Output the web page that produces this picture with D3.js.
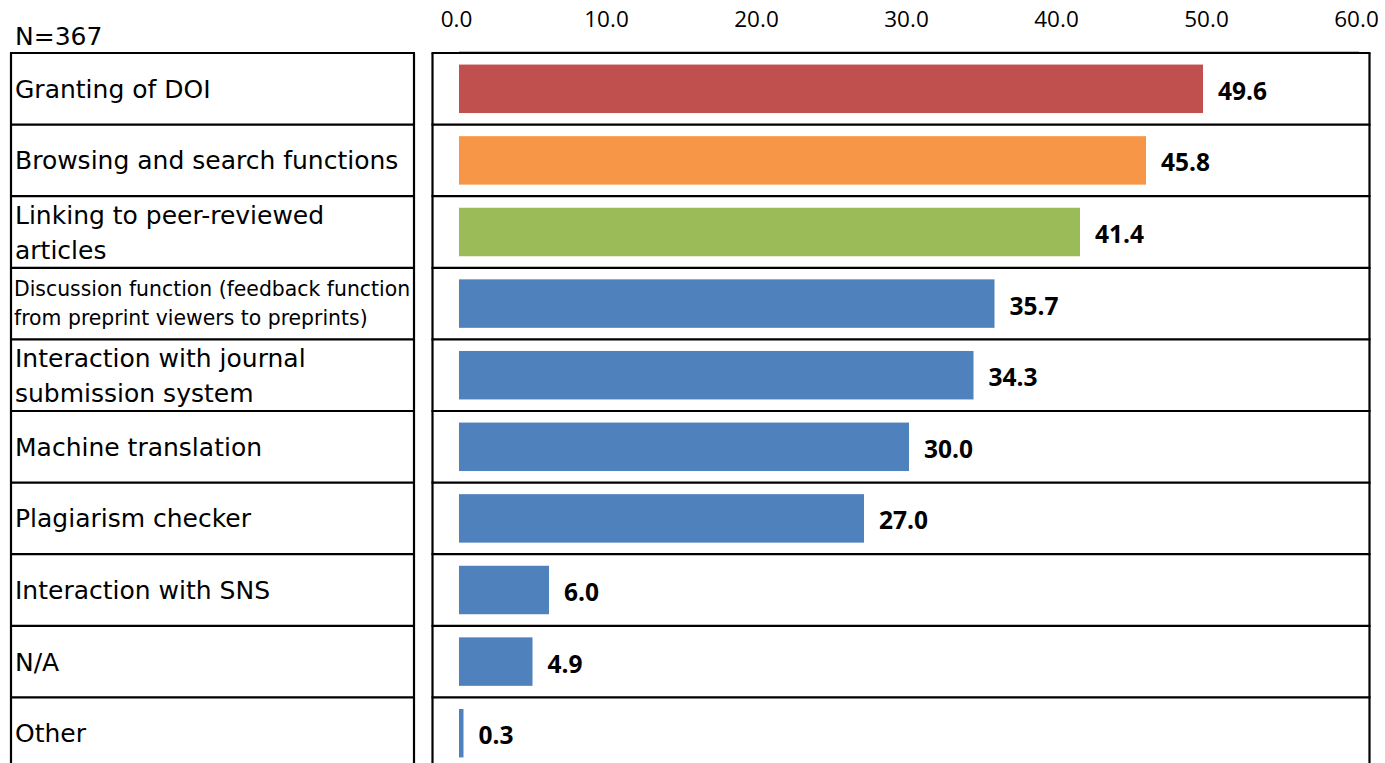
<!DOCTYPE html>
<html>
<head>
<meta charset="utf-8">
<script src="https://cdn.jsdelivr.net/npm/d3@7"></script>
<style>
  html, body { margin: 0; padding: 0; background: #fff; }
  svg { display: block; }
</style>
</head>
<body>
<svg id="chart" width="1385" height="763"></svg>
<script>
// ---- data ----
const categories = [
  "Granting of DOI",
  "Browsing and search functions",
  "Linking to peer-reviewed\narticles",
  "Discussion function (feedback function\nfrom preprint viewers to preprints)",
  "Interaction with journal\nsubmission system",
  "Machine translation",
  "Plagiarism checker",
  "Interaction with SNS",
  "N/A",
  "Other"
];
const values = [49.6, 45.8, 41.4, 35.7, 34.3, 30.0, 27.0, 6.0, 4.9, 0.3];
const tickValues = [0, 10, 20, 30, 40, 50, 60];
const sampleNote = "N=367";

// ---- styles ----
const barColors = ["#C0504D", "#F79646", "#9BBB59", "#4F81BD", "#4F81BD", "#4F81BD", "#4F81BD", "#4F81BD", "#4F81BD", "#4F81BD"];
const smallLabelIdx = new Set([3]);

const svg = d3.select("#chart");
const rowTop = 53, rowH = 71.6;

const x = d3.scaleLinear().domain([0, 60]).range([459, 1359]);
const row = d3.scaleBand().domain(categories).range([rowTop, rowTop + rowH * categories.length]).padding(0);
const bh = row.bandwidth() * 0.677;

// gray axis line
svg.append("line")
  .attr("x1", x(0)).attr("x2", x(60))
  .attr("y1", 51.5).attr("y2", 51.5)
  .attr("stroke", "#bfbfbf").attr("stroke-width", 1);

// top axis labels
const axis = d3.axisTop(x).tickValues(tickValues).tickSize(0).tickPadding(0).tickFormat(d3.format(".1f"));
const ag = svg.append("g").attr("transform", "translate(-3,27)").call(axis);
ag.select(".domain").remove();
ag.selectAll("text")
  .attr("font-family", "'Open Sans', sans-serif")
  .attr("font-size", 22.5)
  .attr("fill", "#000")
  .attr("dy", 0);

// N note
svg.append("text")
  .attr("x", 15).attr("y", 45)
  .attr("font-family", "'DejaVu Sans', sans-serif")
  .attr("font-size", 25)
  .attr("fill", "#000")
  .text(sampleNote);

// bars
svg.append("g").selectAll("rect")
  .data(categories)
  .join("rect")
  .attr("x", x(0))
  .attr("y", d => row(d) + (row.bandwidth() - bh) / 2)
  .attr("width", (d, i) => x(values[i]) - x(0))
  .attr("height", bh)
  .attr("fill", (d, i) => barColors[i]);

// value labels
svg.append("g").selectAll("text")
  .data(categories)
  .join("text")
  .attr("x", (d, i) => x(values[i]) + 15)
  .attr("y", d => row(d) + row.bandwidth() / 2 + 11)
  .attr("font-family", "'Open Sans', sans-serif")
  .attr("font-weight", 700)
  .attr("font-size", 24.5)
  .attr("fill", "#000")
  .text((d, i) => d3.format(".1f")(values[i]));

// category labels
const lg = svg.append("g");
categories.forEach((c, i) => {
  const lines = c.split("\n");
  const small = smallLabelIdx.has(i);
  const fs = small ? 20.4 : 25;
  const lh = small ? 29 : 35;
  const cy = row(c) + row.bandwidth() / 2;
  const t = lg.append("text")
    .attr("font-family", "'DejaVu Sans', sans-serif")
    .attr("font-size", fs)
    .attr("fill", "#000");
  lines.forEach((ln, j) => {
    const off = (j - (lines.length - 1) / 2) * lh;
    t.append("tspan")
      .attr("x", small ? 14 : 15)
      .attr("y", cy + off + fs * 0.36)
      .text(ln);
  });
});

// table lines
const grid = svg.append("g").attr("stroke", "#000").attr("stroke-width", 2.2).attr("fill", "none");
const yLines = categories.map(c => row(c)).concat([row.range()[1]]);
[[11, 414], [432.5, 1369.5]].forEach(([x1, x2]) => {
  grid.selectAll(null).data(yLines).join("line")
    .attr("x1", x1 - 1).attr("x2", x2 + 1)
    .attr("y1", d => d).attr("y2", d => d);
  grid.append("line").attr("x1", x1).attr("x2", x1).attr("y1", rowTop).attr("y2", row.range()[1]);
  grid.append("line").attr("x1", x2).attr("x2", x2).attr("y1", rowTop).attr("y2", row.range()[1]);
});
</script>
</body>
</html>
